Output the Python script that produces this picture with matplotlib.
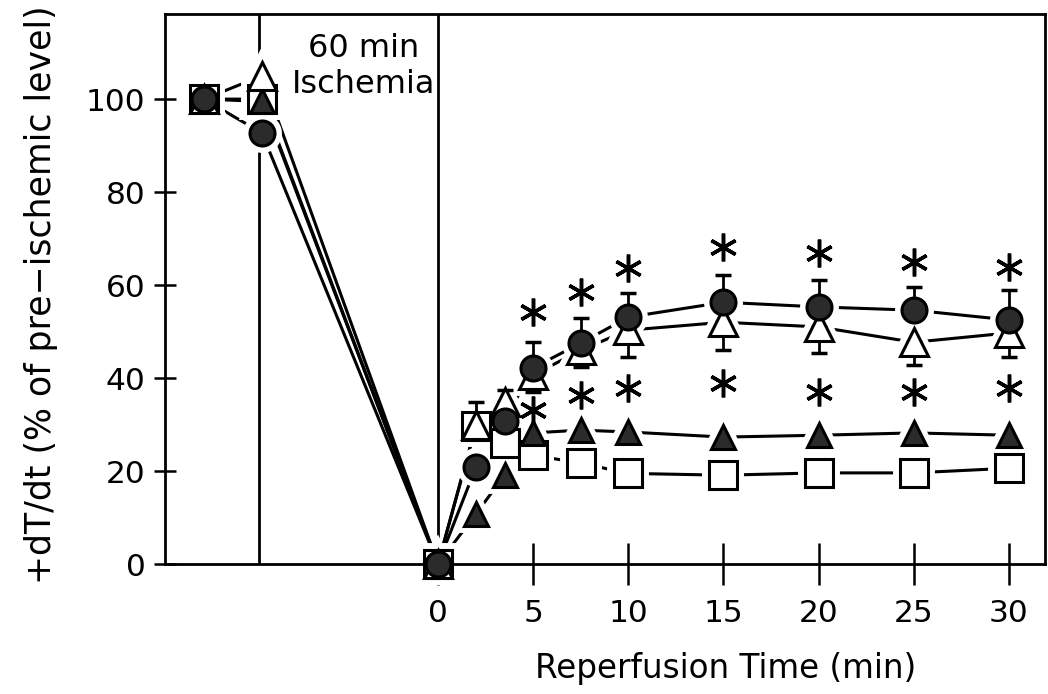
import matplotlib.pyplot as plt

# reperfusion sampling times (min)
times = [0, 2, 3.5, 5, 7.5, 10, 15, 20, 25, 30]
x_ticks = [0, 5, 10, 15, 20, 25, 30]
y_ticks = [0, 20, 40, 60, 80, 100]

# the two points before reperfusion sit on a compressed part of the axis
x_pre = -12.3
x_isch = -9.25

# filled circle
circle_pre = [100, 92.7]
circle_rep = [0, 20.9, 30.8, 42.2, 47.5, 53.1, 56.3, 55.3, 54.6, 52.5]
circle_err_hi = [0, 0, 0, 5.5, 5.4, 5.2, 5.9, 5.8, 5.0, 6.4]

# open triangle
otri_pre = [100, 105]
otri_rep = [0, 29.9, 34.8, 40.6, 46.0, 50.3, 52.0, 51.0, 47.7, 49.7]
otri_err_lo = [0, 0, 0, 3.6, 3.6, 5.8, 6.0, 5.6, 4.9, 5.2]
otri_err_hi = [0, 5.0, 2.6, 0, 0, 0, 0, 0, 0, 0]

# filled triangle
ftri_pre = [100, 99.5]
ftri_rep = [0, 10.8, 19.1, 28.2, 28.8, 28.4, 27.3, 27.7, 28.2, 27.7]

# open square
osq_pre = [100, 100]
osq_rep = [0, 29.7, 26.0, 23.4, 21.7, 19.5, 19.1, 19.6, 19.6, 20.6]

# significance asterisks
star_times = [5, 7.5, 10, 15, 20, 25, 30]
star_hi = [54.2, 58.5, 63.7, 68.2, 66.9, 64.9, 63.9]
star_lo = [33.1, 36.3, 37.8, 38.9, 37.0, 37.0, 37.8]

plt.rcParams['font.family'] = 'DejaVu Sans'
fill = '#2b2b2b'

fig = plt.figure(figsize=(10.48, 6.94), dpi=100)
ax = fig.add_axes([0.1574, 0.1873, 0.8397, 0.7925])

xs = [x_pre, x_isch] + times
series = [
    # values, marker, ms, face, zorder
    (osq_pre + osq_rep, 's', 19.5, 'white', 4.0),
    (ftri_pre + ftri_rep, '^', 17.5, fill, 4.1),
    (otri_pre + otri_rep, '^', 20, 'white', 4.2),
    (circle_pre + circle_rep, 'o', 18, fill, 4.3),
]

for ys, m, ms, fc, z in series:
    ax.plot(xs, ys, color='black', lw=2.2, zorder=1)
    # white halo so the lines stop short of the symbols
    ax.plot(xs, ys, ls='none', marker=m, ms=ms, mfc='white', mec='white',
            mew=10, zorder=2, clip_on=False)
    ax.plot(xs, ys, ls='none', marker=m, ms=ms, mfc=fc, mec='black',
            mew=2.2, zorder=z, clip_on=False)

# error bars (one-sided)
ax.errorbar(times, circle_rep, yerr=[[0] * len(times), circle_err_hi], fmt='none',
            ecolor='black', elinewidth=2, capsize=6, capthick=2.5, zorder=3)
ax.errorbar(times, otri_rep, yerr=[otri_err_lo, otri_err_hi], fmt='none',
            ecolor='black', elinewidth=2, capsize=6, capthick=2.5, zorder=3)

# asterisks
ax.plot(star_times, star_hi, ls='none', marker=(6, 2, 0), ms=20, mew=2.5,
        color='black', zorder=5)
ax.plot(star_times, star_lo, ls='none', marker=(6, 2, 0), ms=20, mew=2.5,
        color='black', zorder=5)

# ischemia period borders
ax.axvline(x_isch - 0.15, color='black', lw=2, zorder=1)
ax.axvline(0, color='black', lw=2, zorder=1)

ax.text(-3.9, 107, '60 min\nIschemia', ha='center', va='center',
        fontsize=23, linespacing=1.2)

ax.set_xlim(-14.35, 31.9)
ax.set_ylim(0, 118.3)
ax.set_xticks(x_ticks)
ax.set_yticks(y_ticks)
ax.tick_params(axis='x', direction='inout', length=30, width=1.8,
               labelsize=22.5, pad=10)
ax.tick_params(axis='y', direction='inout', length=16, width=1.8,
               labelsize=22.5, pad=6)
for s in ax.spines.values():
    s.set_linewidth(2)

ax.set_xlabel('Reperfusion Time (min)', fontsize=23.5)
ax.xaxis.set_label_coords(0.637, -0.16)
ax.set_ylabel('+dT/dt (% of pre\u2212ischemic level)', fontsize=25)
ax.yaxis.set_label_coords(-0.122, 0.49)

fig.savefig('out.png', dpi=100)
